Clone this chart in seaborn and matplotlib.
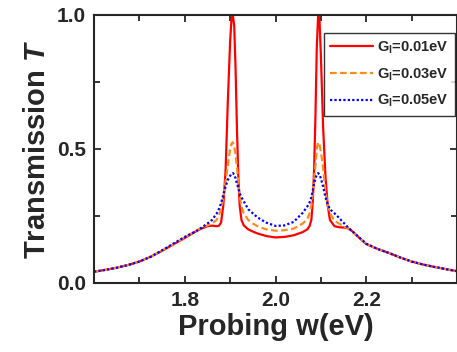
import numpy as np
import pandas as pd
import matplotlib
matplotlib.use("Agg")
import matplotlib.pyplot as plt
import seaborn as sns

# ---- data ----
omega = [1.60, 1.625, 1.65, 1.675, 1.70, 1.725, 1.75, 1.775, 1.80, 1.83, 1.85, 1.86, 1.87,
         1.875, 1.88, 1.885, 1.89, 1.895, 1.90, 1.903, 1.906, 1.909, 1.912, 1.915, 1.918,
         1.921, 1.925, 1.93, 1.94, 1.95, 1.96, 1.98, 2.00, 2.02, 2.04, 2.05, 2.06, 2.07,
         2.075, 2.079, 2.082, 2.085, 2.088, 2.091, 2.094, 2.097, 2.100, 2.105, 2.11,
         2.115, 2.12, 2.13, 2.14, 2.15, 2.16, 2.17, 2.185, 2.20, 2.225, 2.25, 2.275,
         2.30, 2.325, 2.35, 2.375, 2.40]

T_001 = [0.042, 0.049, 0.057, 0.067, 0.080, 0.098, 0.120, 0.144, 0.168, 0.198, 0.212, 0.214, 0.212,
         0.213, 0.225, 0.29, 0.42, 0.68, 0.90, 0.985, 1.00, 0.96, 0.80, 0.58, 0.40,
         0.29, 0.235, 0.215, 0.200, 0.192, 0.185, 0.175, 0.170, 0.172, 0.178, 0.184, 0.190, 0.200,
         0.212, 0.235, 0.30, 0.42, 0.62, 0.88, 1.00, 0.98, 0.85, 0.58, 0.40,
         0.29, 0.235, 0.212, 0.208, 0.207, 0.204, 0.192, 0.168, 0.145, 0.127, 0.112, 0.095,
         0.080, 0.069, 0.060, 0.052, 0.044]

T_003 = [0.042, 0.049, 0.057, 0.067, 0.080, 0.098, 0.121, 0.145, 0.170, 0.200, 0.215, 0.222, 0.235,
         0.250, 0.275, 0.32, 0.38, 0.44, 0.50, 0.52, 0.525, 0.51, 0.48, 0.43, 0.38,
         0.33, 0.285, 0.26, 0.235, 0.222, 0.212, 0.200, 0.195, 0.197, 0.203, 0.212, 0.222, 0.238,
         0.26, 0.29, 0.33, 0.38, 0.44, 0.50, 0.525, 0.515, 0.49, 0.43, 0.34,
         0.29, 0.26, 0.232, 0.222, 0.212, 0.203, 0.190, 0.168, 0.146, 0.127, 0.112, 0.095,
         0.080, 0.069, 0.060, 0.052, 0.044]

T_005 = [0.042, 0.049, 0.057, 0.067, 0.080, 0.098, 0.122, 0.147, 0.172, 0.198, 0.222, 0.235, 0.258,
         0.275, 0.297, 0.33, 0.36, 0.385, 0.40, 0.408, 0.41, 0.405, 0.39, 0.37, 0.355,
         0.335, 0.32, 0.305, 0.275, 0.26, 0.245, 0.225, 0.213, 0.215, 0.228, 0.245, 0.262, 0.285,
         0.30, 0.32, 0.345, 0.37, 0.39, 0.405, 0.41, 0.405, 0.39, 0.36, 0.32,
         0.295, 0.275, 0.26, 0.243, 0.225, 0.207, 0.192, 0.169, 0.147, 0.127, 0.112, 0.095,
         0.080, 0.069, 0.060, 0.052, 0.044]

labels = ["G$_\\mathregular{l}$=0.01eV", "G$_\\mathregular{l}$=0.03eV", "G$_\\mathregular{l}$=0.05eV"]
colors = ["#FF0000", "#FF8C1A", "#0000FF"]
styles = ["-", (0, (3, 1.5)), (0, (1, 1))]

xticks = [1.8, 2.0, 2.2]
yticks = [0.0, 0.5, 1.0]

sns.set_style("ticks")
plt.rcParams["font.family"] = ["Liberation Sans", "DejaVu Sans"]
plt.rcParams["font.weight"] = "bold"
plt.rcParams["mathtext.fontset"] = "custom"
plt.rcParams["mathtext.rm"] = "Liberation Sans:bold"
plt.rcParams["mathtext.it"] = "Liberation Sans:italic:bold"

fig = plt.figure(figsize=(4.57, 3.52), dpi=100)
ax = fig.add_axes([94 / 457, 1 - 283 / 352, 363 / 457, 268 / 352])

for T, lab, c, ls in zip([T_001, T_003, T_005], labels, colors, styles):
    df = pd.DataFrame({"omega": omega, "T": T})
    sns.lineplot(data=df, x="omega", y="T", ax=ax, color=c, linestyle=ls,
                 linewidth=1.6, label=lab, sort=False)

ax.set_xlim(1.6, 2.4)
ax.set_ylim(0.0, 1.0)
ax.set_xticks(xticks)
ax.set_xticklabels([f"{v:.1f}" for v in xticks])
ax.set_yticks(yticks)
ax.set_yticklabels([f"{v:.1f}" for v in yticks])
ax.set_xticks([1.7, 1.9, 2.1, 2.3], minor=True)
ax.set_yticks([0.25, 0.75], minor=True)
ax.tick_params(which="both", direction="in", top=True, right=True, width=1.3)
ax.tick_params(which="major", length=5, labelsize=15, pad=6)
ax.tick_params(which="minor", length=4)
for lbl in ax.get_xticklabels() + ax.get_yticklabels():
    lbl.set_fontweight("bold")
for s in ax.spines.values():
    s.set_linewidth(1.5)
    s.set_visible(True)

ax.set_xlabel("Probing w(eV)", fontsize=21, fontweight="bold", labelpad=2)
ax.set_ylabel("Transmission $\\mathit{T}$", fontsize=21, fontweight="bold", labelpad=4)

leg = ax.legend(loc="upper right", bbox_to_anchor=(1 - 2 / 363, 1 - 18 / 268),
                borderaxespad=0, fancybox=False, frameon=True, edgecolor="black",
                prop={"size": 10.5, "weight": "bold"}, handlelength=2.9,
                handletextpad=0.3, labelspacing=0.7, borderpad=0.45)
leg.get_frame().set_linewidth(1.0)

fig.savefig("out.png", dpi=100)
